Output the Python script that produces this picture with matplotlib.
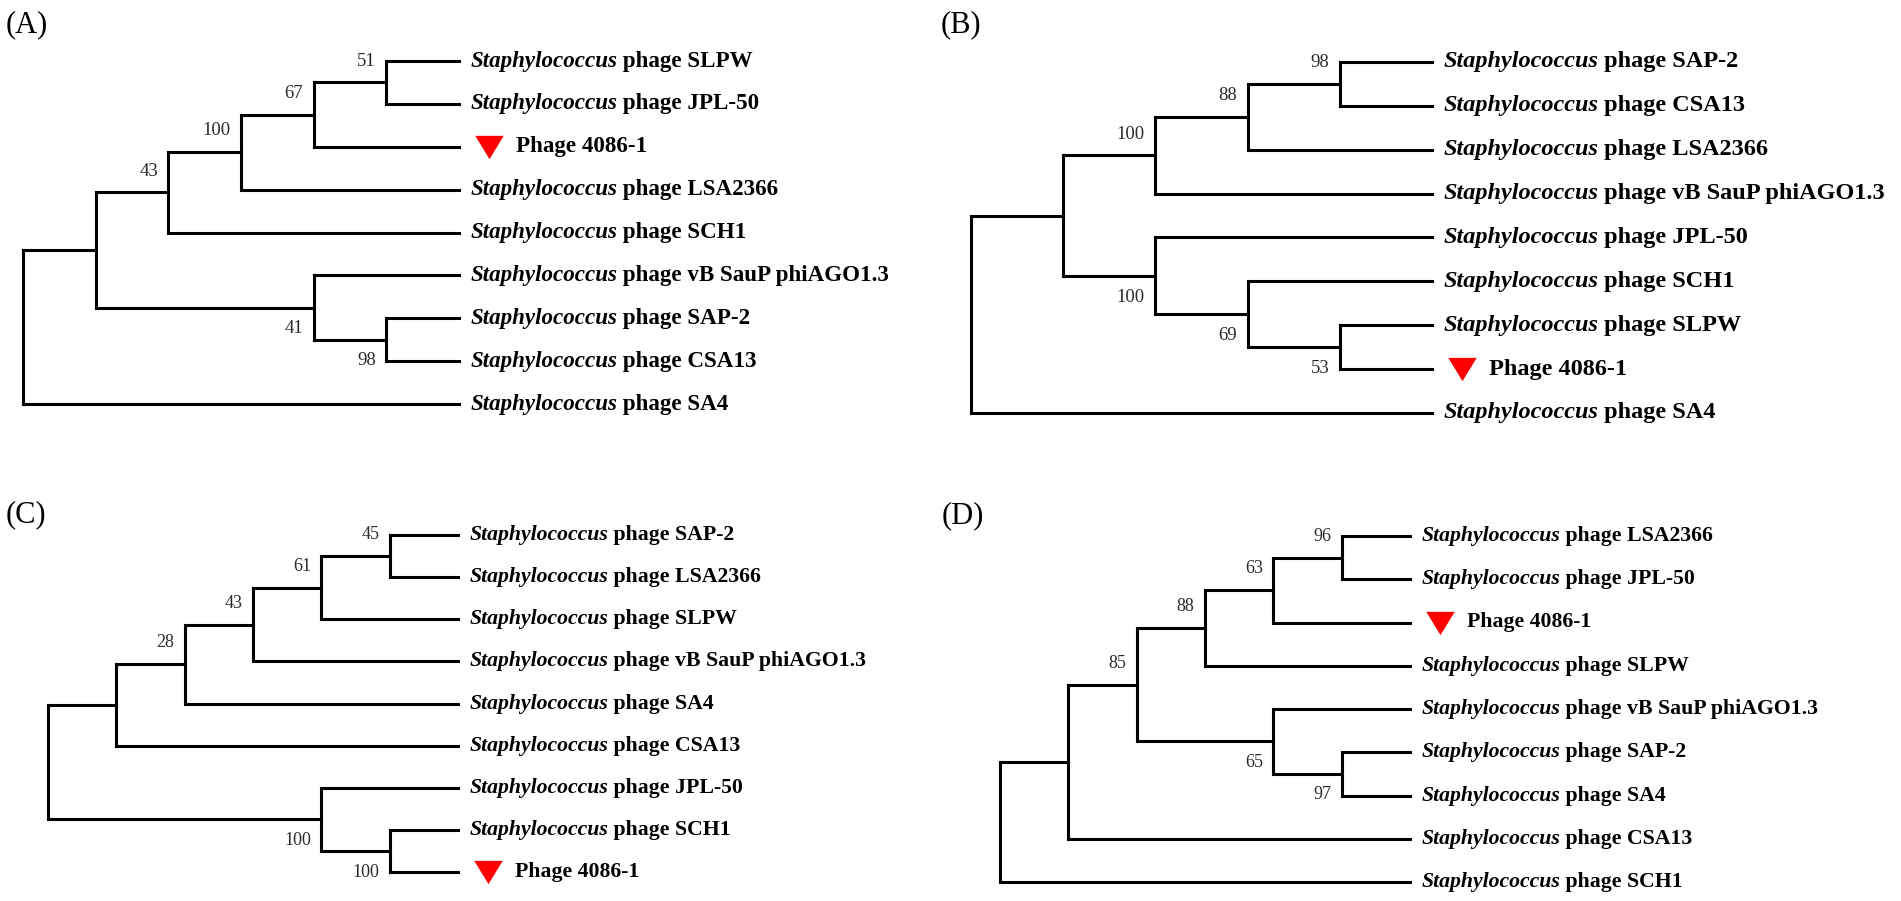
import matplotlib
matplotlib.use("Agg")
import matplotlib.pyplot as plt
from matplotlib.path import Path
from matplotlib.transforms import offset_copy

plt.rcParams["font.family"] = ["Liberation Serif", "DejaVu Serif"]

# ---------------- data: tree topologies with bootstrap values ----------------
TREE_A = "((((((SLPW,JPL-50)51,4086-1)67,LSA2366)100,SCH1)43,(vB SauP phiAGO1.3,(SAP-2,CSA13)98)41),SA4);"
TREE_B = "(((((SAP-2,CSA13)98,LSA2366)88,vB SauP phiAGO1.3)100,(JPL-50,(SCH1,(SLPW,4086-1)53)69)100),SA4);"
TREE_C = "((((((SAP-2,LSA2366)45,SLPW)61,vB SauP phiAGO1.3)43,SA4)28,CSA13),(JPL-50,(SCH1,4086-1)100)100);"
TREE_D = "((((((LSA2366,JPL-50)96,4086-1)63,SLPW)88,(vB SauP phiAGO1.3,(SAP-2,SA4)97)65)85,CSA13),SCH1);"

PANEL_TITLES = ["(A)", "(B)", "(C)", "(D)"]
GENUS = "Staphylococcus"
QUERY_LEAF = "4086-1"
QUERY_TEXT = "Phage 4086-1"

# ---------------- layout (pixels in a 1901 x 901 canvas) ----------------
W, H = 1901, 901
# root x, tip x, first leaf y, last leaf y, leaf font size, bootstrap font size
LAYOUT = {
    "(A)": dict(root=23, tip=459, top=61, bottom=404, fs=16.6, bfs=13.5, title=(6, 25)),
    "(B)": dict(root=971, tip=1432, top=62, bottom=413, fs=17.5, bfs=13.5, title=(941, 25)),
    "(C)": dict(root=48, tip=458, top=535, bottom=872, fs=15.7, bfs=13.0, title=(6, 515)),
    "(D)": dict(root=1000, tip=1410, top=536, bottom=882, fs=15.7, bfs=13.0, title=(942, 516)),
}
TREES = [TREE_A, TREE_B, TREE_C, TREE_D]


def parse_newick(s):
    s = s.strip().rstrip(";")
    pos = 0

    def read_label():
        nonlocal pos
        start = pos
        while pos < len(s) and s[pos] not in ",()":
            pos += 1
        return s[start:pos].strip()

    def node():
        nonlocal pos
        if s[pos] == "(":
            pos += 1
            kids = [node()]
            while s[pos] == ",":
                pos += 1
                kids.append(node())
            pos += 1  # ')'
            return {"children": kids, "label": read_label()}
        return {"children": [], "label": read_label()}

    return node()


def layout_tree(root):
    leaves = []

    def height(n):
        if not n["children"]:
            n["h"] = 0
        else:
            n["h"] = 1 + max(height(c) for c in n["children"])
        return n["h"]

    total = height(root)

    def place(n):
        n["x"] = total - n["h"]
        if not n["children"]:
            n["y"] = len(leaves)
            leaves.append(n)
        else:
            for c in n["children"]:
                place(c)
            n["y"] = 0.5 * (n["children"][0]["y"] + n["children"][-1]["y"])

    place(root)
    return total, leaves


fig = plt.figure(figsize=(W / 100, H / 100), dpi=100)
fig.patch.set_facecolor("white")

LW = 2.2
tri = Path([(-1, 0.82), (1, 0.82), (0, -0.82), (-1, 0.82)],
           [Path.MOVETO, Path.LINETO, Path.LINETO, Path.CLOSEPOLY])

for title, tree in zip(PANEL_TITLES, TREES):
    L = LAYOUT[title]
    root = parse_newick(tree)
    depth, leaves = layout_tree(root)
    n_leaf = len(leaves)

    ax = fig.add_axes([L["root"] / W, 1 - L["bottom"] / H,
                       (L["tip"] - L["root"]) / W, (L["bottom"] - L["top"]) / H])
    ax.set_xlim(0, depth)
    ax.set_ylim(n_leaf - 1, 0)
    ax.axis("off")

    def draw(n, is_root=False, side=None):
        if n["children"]:
            ys = [c["y"] for c in n["children"]]
            ax.plot([n["x"], n["x"]], [min(ys), max(ys)], color="black", lw=LW,
                    solid_capstyle="projecting", clip_on=False)
            for i, c in enumerate(n["children"]):
                ax.plot([n["x"], c["x"]], [c["y"], c["y"]], color="black", lw=LW,
                        solid_capstyle="projecting", clip_on=False)
                draw(c, side="above" if i == 0 else "below")
            if n["label"] and not is_root:
                dy = 15.2 if side == "above" else -15.2
                ax.annotate(n["label"], xy=(n["x"], n["y"]), xytext=(-7.5, dy),
                            textcoords="offset points", ha="right", va="center",
                            fontsize=L["bfs"], color="#2b2b2b", annotation_clip=False)

    draw(root, is_root=True)

    for lf in leaves:
        name = lf["label"]
        if name == QUERY_LEAF:
            tr = offset_copy(ax.transData, fig=fig, x=30, y=0, units="dots")
            ax.plot([depth], [lf["y"]], marker=tri, markersize=20.5, color="#ff0000",
                    markeredgewidth=0, transform=tr, clip_on=False)
            ax.annotate(QUERY_TEXT, xy=(depth, lf["y"]), xytext=(41, 0),
                        textcoords="offset points", ha="left", va="center",
                        fontsize=L["fs"], fontweight="bold", annotation_clip=False)
        else:
            t1 = ax.annotate(GENUS, xy=(depth, lf["y"]), xytext=(8, 0),
                             textcoords="offset points", ha="left", va="center",
                             fontsize=L["fs"], fontweight="bold", fontstyle="italic",
                             annotation_clip=False)
            ax.annotate(" phage " + name, xy=(1, 0), xycoords=t1,
                        ha="left", va="bottom", fontsize=L["fs"], fontweight="bold",
                        annotation_clip=False)

    tx, ty = L["title"]
    fig.text(tx / W, 1 - ty / H, title, fontsize=22, ha="left", va="center")

fig.savefig("out.png", dpi=100, facecolor="white")
